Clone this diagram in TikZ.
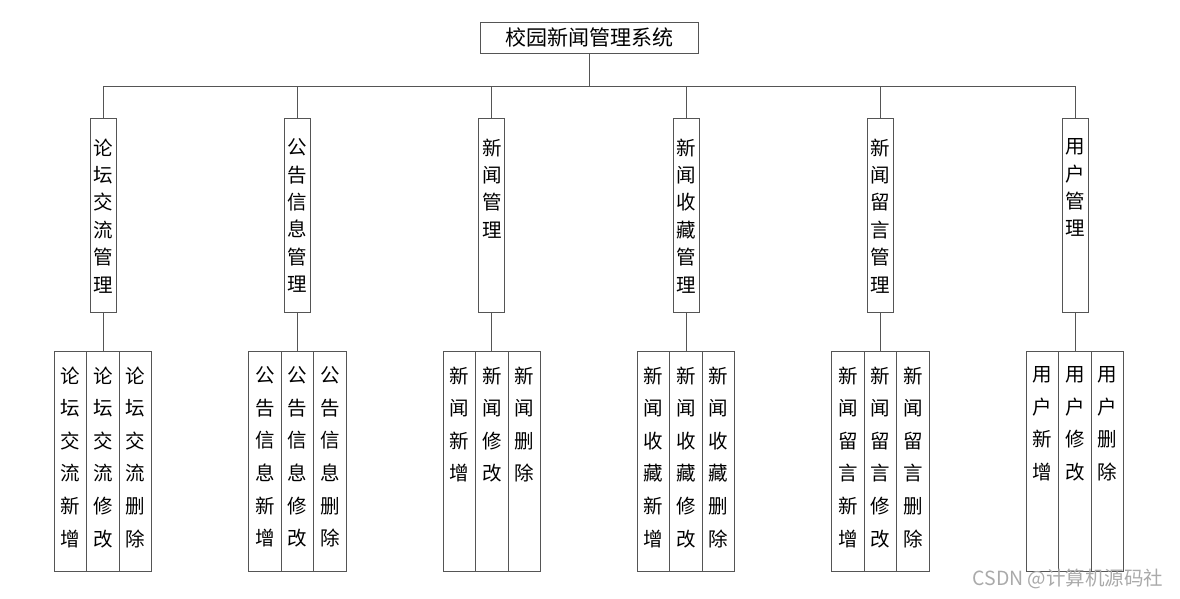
\documentclass[tikz,border=0pt]{standalone}
\usepackage{fontspec}
\setmainfont{Noto Sans CJK SC}
\definecolor{ln}{RGB}{85,85,85}
\definecolor{wm}{RGB}{170,170,170}
\tikzset{
  box/.style={draw=ln, line width=1pt, inner sep=0pt},
  conn/.style={draw=ln, line width=1pt},
  modtxt/.style={anchor=north, align=center, inner sep=0pt, font=\fontsize{19.5}{27.4}\selectfont},
  leaftxt/.style={anchor=north, align=center, inner sep=0pt, font=\fontsize{19.5}{32.6}\selectfont},
}
\newcommand\mycol[6]{%
  \node[box, minimum width=26pt, minimum height=194pt, anchor=north] (m#1) at (#2,118) {};
  \node[modtxt] (mt#1) at ([yshift=-20.5pt]m#1.north) {#3};
  \node[box, minimum width=32.5pt, minimum height=220pt, anchor=north] (a#1) at (#2-32.5,351) {};
  \node[box, minimum width=32.5pt, minimum height=220pt, anchor=north] (b#1) at (#2,351) {};
  \node[box, minimum width=32.5pt, minimum height=220pt, anchor=north] (c#1) at (#2+32.5,351) {};
  \node[leaftxt] (at#1) at ([yshift=-15.5pt]a#1.north) {#4};
  \node[leaftxt] (bt#1) at ([yshift=-15.5pt]b#1.north) {#5};
  \node[leaftxt] (ct#1) at ([yshift=-15.5pt]c#1.north) {#6};
  \draw[conn] (top.south) -- ++(0,-33pt) -| (m#1.north);
  \draw[conn] (m#1.south) -- (b#1.north);
}
\begin{document}
\begin{tikzpicture}[x=1pt,y=-1pt]
\useasboundingbox (0,0) rectangle (1180,598);
\node[box, minimum width=218pt, minimum height=31pt, font=\fontsize{21}{25}\selectfont] (top) at (589,37.5) {校园新闻管理系统};
\mycol{1}{103}{论\\坛\\交\\流\\管\\理}{论\\坛\\交\\流\\新\\增}{论\\坛\\交\\流\\修\\改}{论\\坛\\交\\流\\删\\除}
\mycol{2}{297.4}{公\\告\\信\\息\\管\\理}{公\\告\\信\\息\\新\\增}{公\\告\\信\\息\\修\\改}{公\\告\\信\\息\\删\\除}
\mycol{3}{491.8}{新\\闻\\管\\理}{新\\闻\\新\\增}{新\\闻\\修\\改}{新\\闻\\删\\除}
\mycol{4}{686.2}{新\\闻\\收\\藏\\管\\理}{新\\闻\\收\\藏\\新\\增}{新\\闻\\收\\藏\\修\\改}{新\\闻\\收\\藏\\删\\除}
\mycol{5}{880.6}{新\\闻\\留\\言\\管\\理}{新\\闻\\留\\言\\新\\增}{新\\闻\\留\\言\\修\\改}{新\\闻\\留\\言\\删\\除}
\mycol{6}{1075}{用\\户\\管\\理}{用\\户\\新\\增}{用\\户\\修\\改}{用\\户\\删\\除}
\node[text=wm, font=\fontsize{19.5}{22}\selectfont, inner sep=0pt] (wmk) at (1068,579) {CSDN @计算机源码社};
\end{tikzpicture}
\end{document}
